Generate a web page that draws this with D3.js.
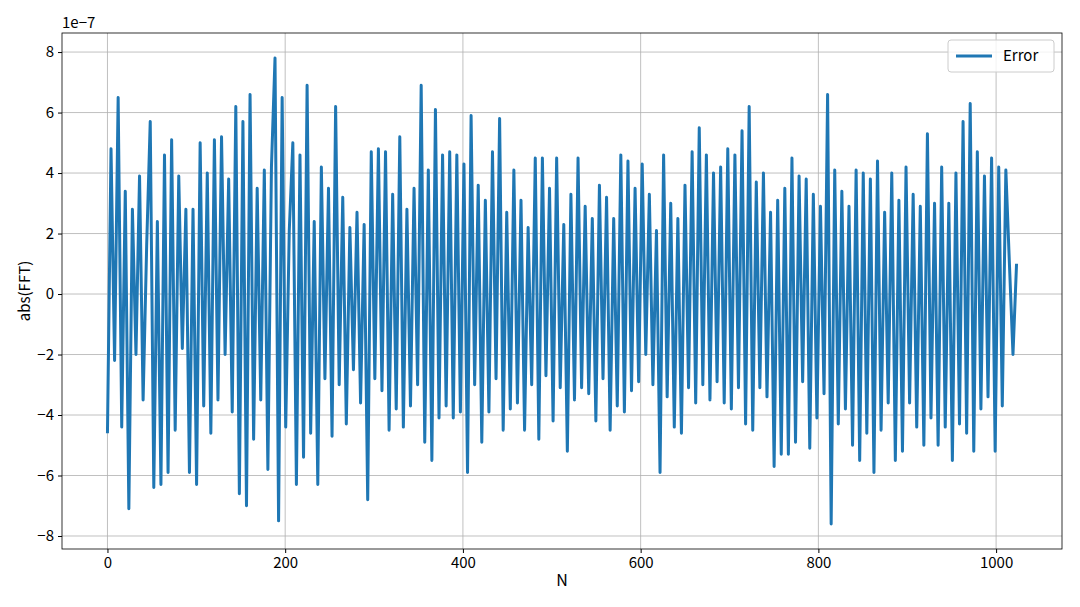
<!DOCTYPE html>
<html><head><meta charset="utf-8">
<script src="https://cdn.jsdelivr.net/npm/d3@7"></script>
<style>body{margin:0;background:#fff}text{font-family:"Noto Sans CJK SC","DejaVu Sans",sans-serif}</style>
</head><body><svg id="c" width="1080" height="607"></svg>
<script>
const values = [
-4.6,4.8,-2.2,6.5,-4.4,3.4,-7.1,2.8,-2.0,3.9,-3.5,1.6,5.7,-6.4,2.4,-6.3,
4.6,-5.9,5.1,-4.5,3.9,-1.8,2.8,-5.9,2.8,-6.3,5.0,-3.7,4.0,-4.6,5.1,-3.5,
5.2,-2.0,3.8,-3.9,6.2,-6.6,5.7,-7.0,6.6,-4.8,3.5,-3.5,4.1,-5.8,4.2,7.8,
-7.5,6.5,-4.4,2.1,5.0,-6.3,4.6,-5.4,6.9,-4.6,2.4,-6.3,4.2,-2.8,3.5,-4.7,
6.2,-3.0,3.2,-4.3,2.2,-2.5,2.7,-3.6,2.3,-6.8,4.7,-2.8,4.8,-3.2,4.7,-4.5,
3.3,-3.8,5.2,-4.4,2.8,-3.7,3.5,-3.0,6.9,-4.9,4.1,-5.5,6.1,-4.1,4.6,-3.7,
4.7,-4.1,4.6,-3.9,4.3,-5.9,5.9,-3.0,3.6,-4.9,3.1,-3.9,4.7,-2.8,5.8,-4.5,
2.7,-3.8,4.1,-3.6,3.1,-4.5,2.2,-3.0,4.5,-4.8,4.5,-2.7,3.5,-4.2,4.5,-3.1,
2.3,-5.2,3.3,-3.5,4.5,-3.1,2.9,-3.3,2.5,-4.2,3.6,-2.8,3.2,-4.5,2.5,-3.7,
4.6,-3.9,4.4,-3.2,3.5,-2.9,4.3,-2.0,3.3,-3.0,2.1,-5.9,4.6,-3.4,3.0,-4.4,
2.5,-4.6,3.6,-3.1,4.7,-3.6,5.5,-3.0,4.6,-3.5,4.0,-2.9,4.2,-3.6,4.8,-3.8,
4.6,-3.1,5.4,-4.3,6.2,-4.5,3.7,-3.1,4.0,-3.4,2.7,-5.7,3.1,-5.3,3.5,-5.3,
4.5,-4.9,3.9,-2.9,3.8,-5.1,3.3,-4.1,2.9,-3.3,6.6,-7.6,4.1,-4.3,3.4,-3.8,
2.9,-5.0,4.1,-5.5,4.0,-4.6,3.8,-5.9,4.4,-4.5,2.7,-3.6,4.0,-5.5,3.1,-5.2,
4.2,-3.6,3.3,-4.4,2.9,-5.0,5.3,-4.1,3.0,-5.0,4.2,-4.4,3.0,-5.5,4.0,-4.3,
5.7,-4.6,6.3,-5.2,4.7,-3.8,3.9,-3.4,4.5,-5.2,4.2,-3.7,4.1,1.0,-2.0,1.0];
const nMax = 1023;
const xTicks = [0,200,400,600,800,1000];
const yTicks = [-8,-6,-4,-2,0,2,4,6,8];
const seriesName = "Error";

const svg = d3.select("#c");
const L=62,R=1062,T=33,B=549;
const x = d3.scaleLinear().domain([-51.15,1074.15]).range([L,R]);
const y = d3.scaleLinear().domain([-8.43,8.63]).range([B,T]);
const g = svg.append("g");
g.selectAll(".gx").data(xTicks).join("line").attr("x1",d=>x(d)).attr("x2",d=>x(d)).attr("y1",T).attr("y2",B).attr("stroke","#b0b0b0").attr("stroke-width",0.8);
g.selectAll(".gy").data(yTicks).join("line").attr("y1",d=>y(d)).attr("y2",d=>y(d)).attr("x1",L).attr("x2",R).attr("stroke","#b0b0b0").attr("stroke-width",0.8);
const line = d3.line().x((d,i)=>x(i*nMax/(values.length-1))).y(d=>y(d));
svg.append("path").datum(values).attr("d",line).attr("fill","none").attr("stroke","#1f77b4").attr("stroke-width",3).attr("stroke-linejoin","round");
svg.append("rect").attr("x",L).attr("y",T).attr("width",R-L).attr("height",B-T).attr("fill","none").attr("stroke","#000").attr("stroke-width",0.8);
const ax = svg.append("g").attr("transform",`translate(0,${B})`).call(d3.axisBottom(x).tickValues(xTicks).tickSize(4).tickPadding(4).tickFormat(d3.format("d")));
const ay = svg.append("g").attr("transform",`translate(${L},0)`).call(d3.axisLeft(y).tickValues(yTicks).tickSize(4).tickPadding(4).tickFormat(d3.format("d")));
[ax,ay].forEach(a=>{a.select(".domain").remove();a.selectAll("text").attr("font-size",15).attr("fill","#000").style("font-family","'Noto Sans CJK SC',sans-serif");a.selectAll("line").attr("stroke","#000");});
ay.selectAll("text").text(d=>d<0?"\u2212"+(-d):d);
svg.append("text").attr("x",62).attr("y",28).attr("font-size",15).text("1e\u22127");
svg.append("text").attr("x",(L+R)/2).attr("y",586).attr("text-anchor","middle").attr("font-size",16).text("N");
svg.append("text").attr("transform",`translate(30,${(T+B)/2}) rotate(-90)`).attr("text-anchor","middle").attr("font-size",15).text("abs(FFT)");
const lg = svg.append("g");
lg.append("rect").attr("x",948).attr("y",40).attr("width",106).attr("height",32).attr("rx",3).attr("fill","#fff").attr("fill-opacity",0.8).attr("stroke","#ccc");
lg.append("line").attr("x1",956).attr("x2",992).attr("y1",56).attr("y2",56).attr("stroke","#1f77b4").attr("stroke-width",3);
lg.append("text").attr("x",1003).attr("y",61).attr("font-size",15).text(seriesName);
</script></body></html>
